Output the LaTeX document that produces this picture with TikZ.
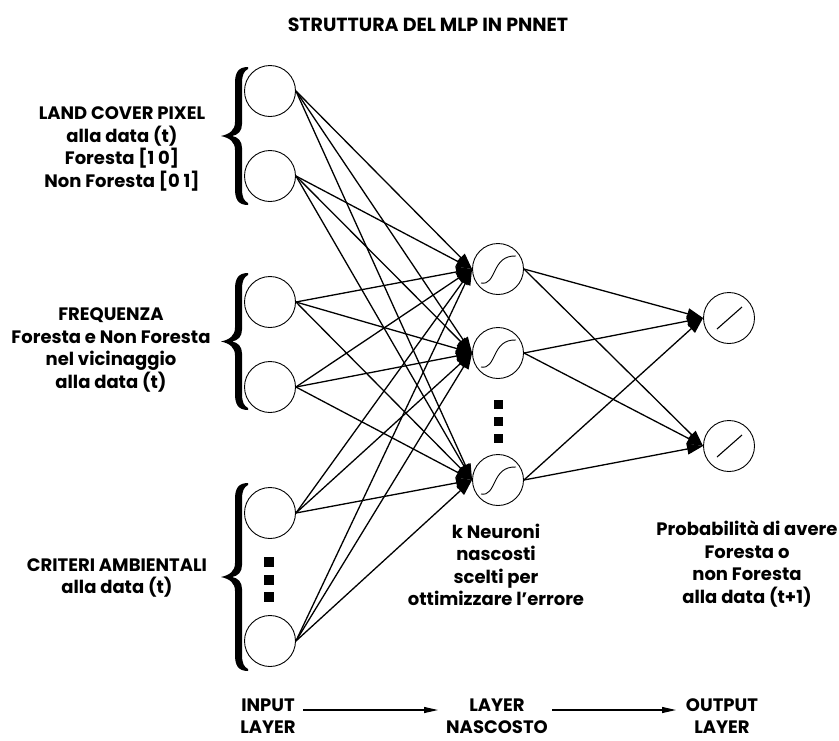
\documentclass[tikz,border=0pt]{standalone}
\usepackage{fontspec}
\setmainfont{Poppins}
\usetikzlibrary{arrows.meta,calc}
\newcommand{\myBrace}[2]{%
  \pgfmathsetmacro{\ym}{(#1+#2)/2}
  \fill (248,#1) .. controls (238,#1) and (235,#1+6) .. (235,#1+16) -- (235,\ym-14)
    .. controls (235,\ym-6) and (230,\ym-2) .. (221,\ym)
    .. controls (230,\ym+2) and (235,\ym+6) .. (235,\ym+14) -- (235,#2-16)
    .. controls (235,#2-6) and (238,#2) .. (248,#2) -- (248,#2-2)
    .. controls (244,#2-4) and (242,#2-8) .. (242,#2-16) -- (242,\ym+12)
    .. controls (242,\ym+5) and (238,\ym+1) .. (232,\ym)
    .. controls (238,\ym-1) and (242,\ym-5) .. (242,\ym-12) -- (242,#1+16)
    .. controls (242,#1+8) and (244,#1+4) .. (248,#1+2) -- cycle;
}
\begin{document}
\begin{tikzpicture}[x=1pt,y=-1pt,
  neuron/.style={circle,draw,fill=white,line width=0.9pt,minimum size=51pt,inner sep=0pt},
  lbl/.style={font=\bfseries\fontsize{18}{22.5}\selectfont,align=center,inner sep=0pt},
  conn/.style={line width=1.3pt,-{Triangle[length=16pt,width=11pt]}},
  bconn/.style={line width=1.2pt,-{Triangle[length=14pt,width=6pt]}},
  sq/.style={fill=black}
]
\useasboundingbox[fill=white] (0,0) rectangle (839,740);

% neurons
\node[neuron] (i1) at (270,91) {};
\node[neuron] (i2) at (270,176) {};
\node[neuron] (i3) at (270,302) {};
\node[neuron] (i4) at (270,387) {};
\node[neuron] (i5) at (270,513) {};
\node[neuron] (i6) at (270,641) {};
\node[neuron] (h1) at (498,269) {};
\node[neuron] (h2) at (498,353) {};
\node[neuron] (h3) at (498,480) {};
\node[neuron] (o1) at (729,318) {};
\node[neuron] (o2) at (729,446) {};

% connections
\foreach \i in {i1,i2,i3,i4,i5,i6}{
  \foreach \h in {h1,h2,h3}{
    \draw[conn] (\i.east) -- (\h.west);
  }
}
\foreach \h in {h1,h2,h3}{
  \foreach \o in {o1,o2}{
    \draw[conn] (\h.east) -- (\o.west);
  }
}

% activation symbols
\foreach \h in {h1,h2,h3}{
  \draw[line width=0.9pt,shift={(\h.center)}] (-17,14) .. controls (-1,17) and (-7,-14) .. (18,-13);
}
\foreach \o in {o1,o2}{
  \draw[line width=1.1pt,shift={(\o.center)}] (-12,11) -- (13,-11);
}

% dots
\foreach \y in {562,580,597}{ \fill (264,\y-5) rectangle (274,\y+5); }
\foreach \y in {404,421,438}{ \fill (493.5,\y-4.5) rectangle (502.5,\y+4.5); }

% braces
\myBrace{67}{205}
\myBrace{273}{410}
\myBrace{483}{671}

% labels
\node[lbl,font=\bfseries\fontsize{19}{22.5}\selectfont] (t) at (428,25) {STRUTTURA DEL MLP IN PNNET};
\node[lbl] (l1) at (122,149) {LAND COVER PIXEL\\alla data (t)\\Foresta [1 0]\\Non Foresta [0 1]};
\node[lbl] (l2) at (111,350) {FREQUENZA\\Foresta e Non Foresta\\nel vicinaggio\\alla data (t)};
\node[lbl] (l3) at (117,578) {CRITERI AMBIENTALI\\alla data (t)};
\node[lbl] (l4) at (496,565) {k Neuroni\\nascosti\\scelti per\\ottimizzare l'errore};
\node[lbl] (l5) at (747,564) {Probabilità di avere\\Foresta o\\non Foresta\\alla data (t+1)};
\node[lbl,anchor=south,text depth=0pt] (b1) at (268,734) {INPUT\\LAYER};
\node[lbl,anchor=south,text depth=0pt] (b2) at (497,734) {LAYER\\NASCOSTO};
\node[lbl,anchor=south,text depth=0pt] (b3) at (722,734) {OUTPUT\\LAYER};
\coordinate (a1s) at (303,710);
\coordinate (a1e) at (438,710);
\coordinate (a2s) at (552,710);
\coordinate (a2e) at (676,710);
\draw[bconn] (a1s) -- (a1e);
\draw[bconn] (a2s) -- (a2e);
\end{tikzpicture}
\end{document}
